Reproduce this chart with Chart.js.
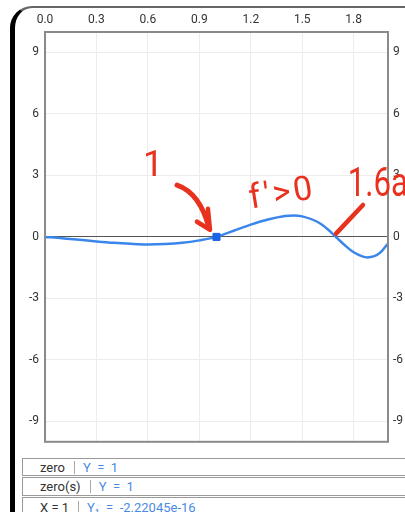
<!DOCTYPE html>
<html>
<head>
<meta charset="utf-8">
<script src="https://cdn.jsdelivr.net/npm/chart.js@4"></script>
<style>
  html, body { margin:0; padding:0; background:#fff; }
  body { width:405px; height:512px; position:relative; overflow:hidden; font-family:Roboto, sans-serif; }
  .frame { position:absolute; left:10px; top:6px; width:430px; height:540px;
    border-left:5px solid #000; border-top:2px solid #666; border-top-left-radius:22px; box-sizing:border-box; }
  .plot { position:absolute; left:0; top:0; width:405px; height:455px; }
  .row { position:absolute; left:22px; width:400px; border:1px solid #9a9a9a; box-sizing:border-box;
    font-size:13px; color:#333; white-space:pre; display:flex; align-items:center; }
  .row .lab { padding-left:17px; }
  .row .sep { width:1px; height:13px; background:#aaa; margin:0 8px 0 9px; }
  .row .val { color:#4a8ae2; }
</style>
</head>
<body>
<div class="frame"></div>
<div class="plot"><canvas id="graph"></canvas></div>
<div class="row" style="top:458px;height:18px;"><span class="lab">zero</span><span class="sep"></span><span class="val">Y  =  1</span></div>
<div class="row" style="top:477px;height:19px;"><span class="lab">zero(s)</span><span class="sep"></span><span class="val">Y  =  1</span></div>
<div class="row" style="top:497px;height:20px;"><span class="lab">X = 1</span><span class="sep"></span><span class="val">Y₁  =  -2.22045e-16</span></div>
<script>
const X_TICKS = [0, 0.3, 0.6, 0.9, 1.2, 1.5, 1.8];
const Y_TICKS = [-9, -6, -3, 0, 3, 6, 9];

// curve
const X_VALS = [0, 0.1, 0.2, 0.3, 0.4, 0.5, 0.6, 0.7, 0.8, 0.9, 1.0, 1.1, 1.2, 1.3, 1.4, 1.45, 1.5, 1.6, 1.65, 1.7, 1.75, 1.8, 1.85, 1.88, 1.95, 2.0];
const Y_VALS = [0, -0.06, -0.14, -0.22, -0.29, -0.34, -0.37, -0.35, -0.29, -0.17, 0, 0.30, 0.60, 0.85, 1.02, 1.05, 1.00, 0.68, 0.36, -0.03, -0.42, -0.75, -0.95, -1.0, -0.80, -0.32];

const ZERO_X = [1];
const ZERO_Y = [0];

const RED = "#e8311e";

// ---- handwritten notes, in graph units ----
const annotate = {
  id: "annotate",
  afterDraw(chart) {
    const { ctx, scales: { x, y } } = chart;
    const P = (a, b) => [x.getPixelForValue(a), y.getPixelForValue(b)];
    ctx.save();
    ctx.strokeStyle = RED;
    ctx.fillStyle = RED;
    ctx.lineCap = "round";
    ctx.lineJoin = "round";

    // "1"
    let [tx, ty] = P(0.63, 3.4);
    ctx.font = "36px Roboto";
    ctx.textAlign = "center";
    ctx.textBaseline = "middle";
    ctx.fillText("1", tx, ty);

    // arrow
    ctx.lineWidth = 5;
    ctx.beginPath();
    const a0 = P(0.77, 2.53), a1 = P(0.904, 2.14), a2 = P(0.956, 0.45);
    ctx.moveTo(...a0);
    ctx.quadraticCurveTo(...a1, ...a2);
    ctx.stroke();
    ctx.lineWidth = 4.5;
    ctx.beginPath();
    ctx.moveTo(...P(0.886, 0.74));
    ctx.lineTo(...P(0.962, 0.35));
    ctx.lineTo(...P(0.95, 1.37));
    ctx.stroke();

    // f'>0
    [tx, ty] = P(1.385, 2.05);
    ctx.save();
    ctx.translate(tx, ty);
    ctx.rotate(-0.16);
    ctx.font = "34px Roboto";
    ctx.letterSpacing = "3px";
    ctx.fillText("f'>0", 0, 0);
    ctx.restore();

    // slash at second crossing
    ctx.lineWidth = 4.5;
    ctx.beginPath();
    ctx.moveTo(...P(1.697, 0.16));
    ctx.lineTo(...P(1.854, 1.56));
    ctx.stroke();

    // 1.6a
    [tx, ty] = P(1.765, 2.0);
    ctx.save();
    ctx.translate(tx, ty);
    ctx.scale(0.78, 1);
    ctx.font = "40px Roboto";
    ctx.textAlign = "left";
    ctx.textBaseline = "alphabetic";
    ctx.fillText("1.6a", 0, 0);
    ctx.restore();

    ctx.restore();
  }
};

const frameBox = {
  id: "frameBox",
  afterDatasetsDraw(chart) {
    const { ctx, chartArea: a } = chart;
    ctx.save();
    ctx.strokeStyle = "#8a8a8a";
    ctx.lineWidth = 2;
    ctx.strokeRect(a.left, a.top, a.right - a.left, a.bottom - a.top);
    ctx.restore();
  }
};

const tickFont = { family: "Roboto", size: 12 };

new Chart(document.getElementById("graph"), {
  type: "line",
  data: {
    datasets: [
      {
        data: ZERO_X.map((v, i) => ({ x: v, y: ZERO_Y[i] })),
        borderColor: "#1c63e4",
        backgroundColor: "#1c63e4",
        pointStyle: "rect",
        pointRadius: 5,
        showLine: false,
        order: 0
      },
      {
        data: X_VALS.map((v, i) => ({ x: v, y: Y_VALS[i] })),
        borderColor: "#3a86ea",
        borderWidth: 2.5,
        pointRadius: 0,
        cubicInterpolationMode: "monotone",
        order: 1
      }
    ]
  },
  options: {
    responsive: true,
    maintainAspectRatio: false,
    animation: false,
    layout: { padding: { left: 0, right: 0, top: 0, bottom: 9 } },
    plugins: { legend: { display: false }, tooltip: { enabled: false } },
    scales: {
      x: {
        type: "linear",
        position: "top",
        min: 0,
        max: 2,
        afterBuildTicks: (s) => { s.ticks = X_TICKS.map(v => ({ value: v })); },
        afterFit: (s) => { s.height = 32; },
        border: { display: false },
        grid: { color: "#ececec", lineWidth: 1, drawTicks: false },
        ticks: { color: "#333", font: tickFont, padding: 5, maxRotation: 0, callback: (v) => v.toFixed(1) }
      },
      y: {
        position: "left",
        min: -10,
        max: 10,
        afterBuildTicks: (s) => { s.ticks = Y_TICKS.map(v => ({ value: v })); },
        afterFit: (s) => { s.width = 45; },
        border: { display: false },
        grid: {
          drawTicks: false,
          color: (c) => c.tick && c.tick.value === 0 ? "#555" : "#ececec",
          lineWidth: 1
        },
        ticks: { color: "#333", font: tickFont, padding: 6 }
      },
      y2: {
        position: "right",
        min: -10,
        max: 10,
        afterBuildTicks: (s) => { s.ticks = Y_TICKS.map(v => ({ value: v })); },
        afterFit: (s) => { s.width = 17; },
        border: { display: false },
        grid: { display: false, drawTicks: false },
        ticks: { color: "#333", font: tickFont, padding: 5 }
      }
    }
  },
  plugins: [frameBox, annotate]
});
</script>
</body>
</html>
